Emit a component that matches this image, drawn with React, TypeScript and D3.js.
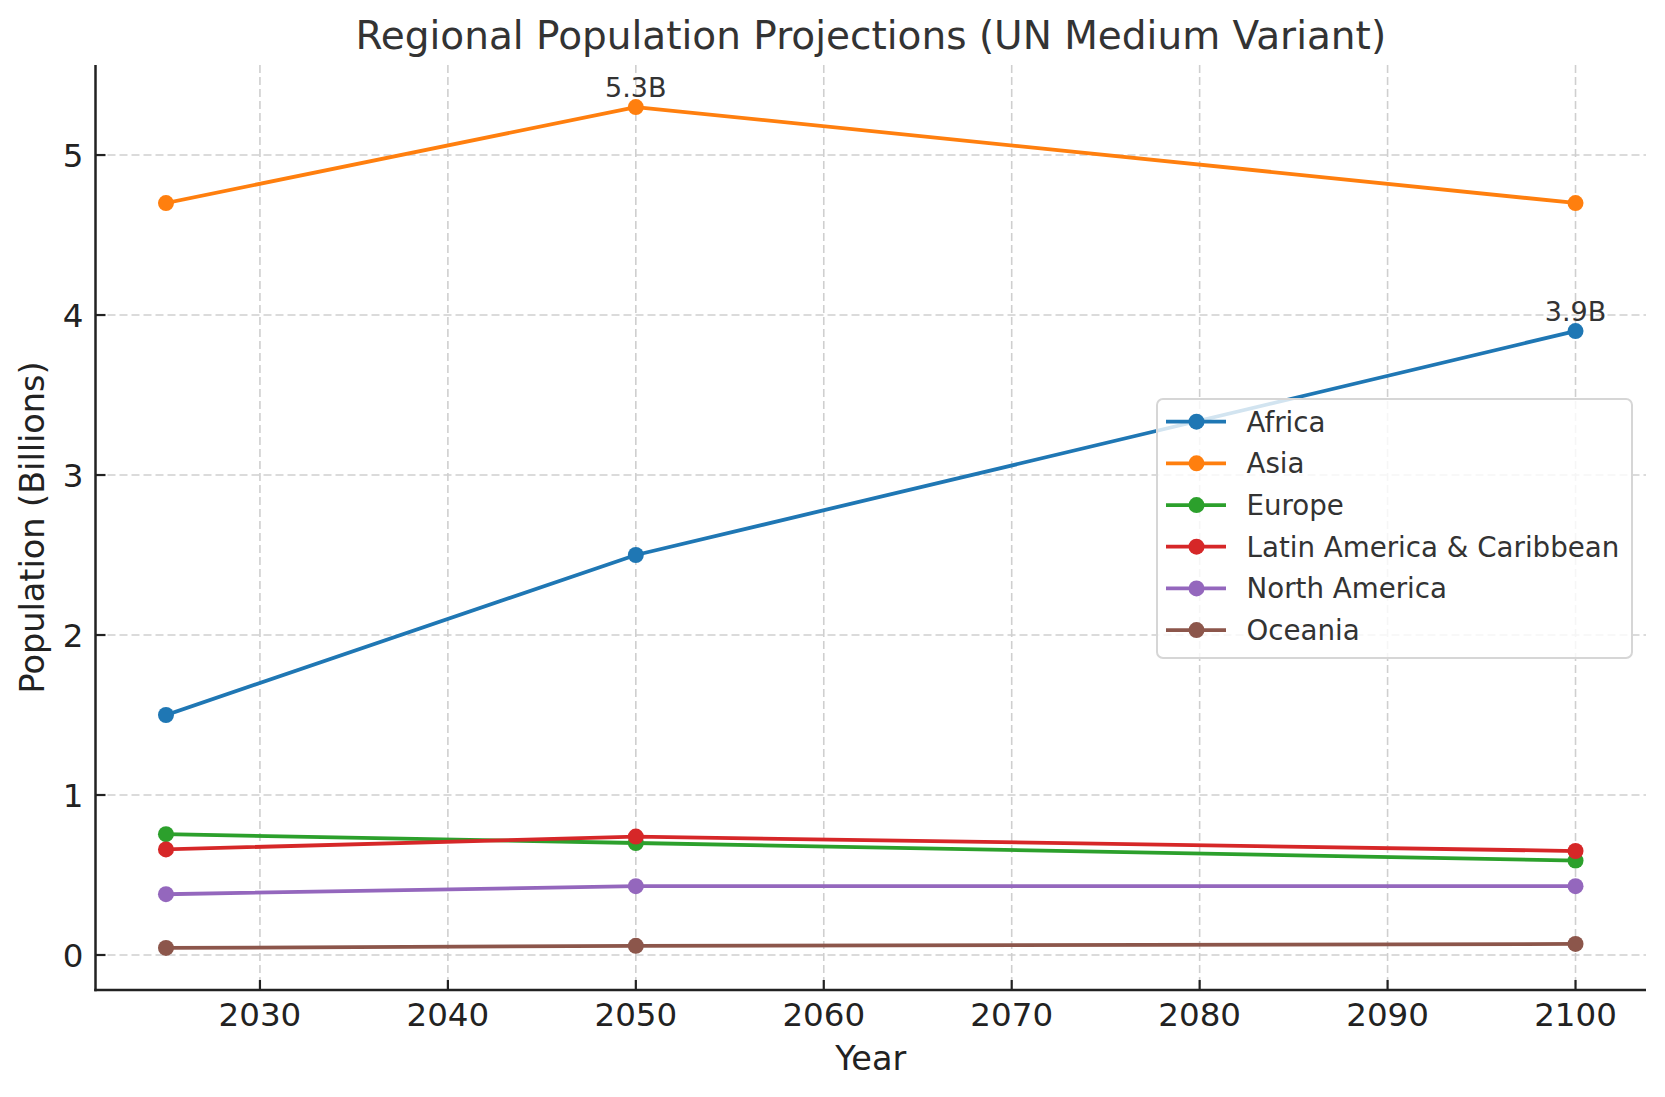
import React, { useEffect, useRef } from 'react';
import * as d3 from 'd3';

const years = [2025, 2050, 2100];
const regions = ['Africa', 'Asia', 'Europe', 'Latin America & Caribbean', 'North America', 'Oceania'];
const africa = [1.5, 2.5, 3.9];
const asia = [4.7, 5.3, 4.7];
const europe = [0.755, 0.7, 0.59];
const latinAmerica = [0.66, 0.74, 0.65];
const northAmerica = [0.38, 0.43, 0.43];
const oceania = [0.044, 0.057, 0.069];
const colors = ['#1f77b4', '#ff7f0e', '#2ca02c', '#d62728', '#9467bd', '#8c564b'];
const xTicks = [2030, 2040, 2050, 2060, 2070, 2080, 2090, 2100];
const yTicks = [0, 1, 2, 3, 4, 5];
const annotations = [
  { year: 2050, value: 5.3, label: '5.3B' },
  { year: 2100, value: 3.9, label: '3.9B' },
];

const FONT = '"DejaVu Sans", sans-serif';

const App: React.FC = () => {
  const svgRef = useRef<SVGSVGElement>(null);

  useEffect(() => {
    if (!svgRef.current) return;
    const svg = d3.select(svgRef.current);
    svg.selectAll('*').remove();

    const width = 1665;
    const height = 1097;
    const left = 95.5, right = 1646, top = 65, bottom = 990;

    const series = [africa, asia, europe, latinAmerica, northAmerica, oceania];
    const allVals = series.flat();
    const yMin = d3.min(allVals)!, yMax = d3.max(allVals)!;
    const yPad = (yMax - yMin) * 0.05;
    const xPad = (years[years.length - 1] - years[0]) * 0.05;

    const x = d3.scaleLinear().domain([years[0] - xPad, years[years.length - 1] + xPad]).range([left, right]);
    const y = d3.scaleLinear().domain([yMin - yPad, yMax + yPad]).range([bottom, top]);

    svg.append('rect').attr('width', width).attr('height', height).attr('fill', 'white');

    // grid
    const grid = svg.append('g');
    xTicks.forEach(t => {
      grid.append('line')
        .attr('x1', x(t)).attr('x2', x(t)).attr('y1', top).attr('y2', bottom)
        .attr('stroke', '#cfcfcf').attr('stroke-width', 1.6).attr('stroke-dasharray', '8,4');
    });
    yTicks.forEach(t => {
      grid.append('line')
        .attr('x1', left).attr('x2', right).attr('y1', y(t)).attr('y2', y(t))
        .attr('stroke', '#cfcfcf').attr('stroke-width', 1.6).attr('stroke-dasharray', '8,4');
    });

    // lines + markers
    const line = d3.line<number>()
      .x((_, i) => x(years[i]))
      .y(d => y(d));

    series.forEach((vals, si) => {
      const g = svg.append('g');
      g.append('path')
        .datum(vals)
        .attr('d', line)
        .attr('fill', 'none')
        .attr('stroke', colors[si])
        .attr('stroke-width', 3.8)
        .attr('stroke-linejoin', 'round')
        .attr('stroke-linecap', 'square');
      vals.forEach((v, i) => {
        g.append('circle')
          .attr('cx', x(years[i])).attr('cy', y(v)).attr('r', 8)
          .attr('fill', colors[si]);
      });
    });

    // annotations
    annotations.forEach(a => {
      svg.append('text')
        .attr('x', x(a.year)).attr('y', y(a.value) - 10)
        .attr('text-anchor', 'middle')
        .attr('fill', '#333')
        .style('font-family', FONT).style('font-size', '27px')
        .text(a.label);
    });

    // spines
    svg.append('line').attr('x1', left).attr('x2', left).attr('y1', top).attr('y2', bottom + 1.25)
      .attr('stroke', '#222').attr('stroke-width', 2.5);
    svg.append('line').attr('x1', left - 1.25).attr('x2', right).attr('y1', bottom).attr('y2', bottom)
      .attr('stroke', '#222').attr('stroke-width', 2.5);

    // ticks (inward)
    xTicks.forEach(t => {
      svg.append('line').attr('x1', x(t)).attr('x2', x(t)).attr('y1', bottom).attr('y2', bottom - 10)
        .attr('stroke', '#222').attr('stroke-width', 2.2);
      svg.append('text')
        .attr('x', x(t)).attr('y', 1026)
        .attr('text-anchor', 'middle').attr('fill', '#222')
        .style('font-family', FONT).style('font-size', '32.5px')
        .text(t);
    });
    yTicks.forEach(t => {
      svg.append('line').attr('x1', left).attr('x2', left + 10).attr('y1', y(t)).attr('y2', y(t))
        .attr('stroke', '#222').attr('stroke-width', 2.2);
      svg.append('text')
        .attr('x', 83.5).attr('y', y(t) + 12)
        .attr('text-anchor', 'end').attr('fill', '#222')
        .style('font-family', FONT).style('font-size', '32.5px')
        .text(t);
    });

    // axis labels
    svg.append('text')
      .attr('x', (left + right) / 2).attr('y', 1070)
      .attr('text-anchor', 'middle').attr('fill', '#222')
      .style('font-family', FONT).style('font-size', '33.5px')
      .text('Year');
    svg.append('text')
      .attr('transform', `translate(44, ${(top + bottom) / 2}) rotate(-90)`)
      .attr('text-anchor', 'middle').attr('fill', '#222')
      .style('font-family', FONT).style('font-size', '33.5px')
      .text('Population (Billions)');

    // title
    svg.append('text')
      .attr('x', (left + right) / 2).attr('y', 49)
      .attr('text-anchor', 'middle').attr('fill', '#333')
      .style('font-family', FONT).style('font-size', '39px')
      .text('Regional Population Projections (UN Medium Variant)');

    // legend
    const lg = svg.append('g');
    lg.append('rect')
      .attr('x', 1157).attr('y', 399).attr('width', 475).attr('height', 259)
      .attr('rx', 6).attr('ry', 6)
      .attr('fill', 'white').attr('fill-opacity', 0.8)
      .attr('stroke', '#d6d6d6').attr('stroke-width', 2);
    regions.forEach((name, i) => {
      const cy = 421.7 + i * 41.67;
      lg.append('line').attr('x1', 1166).attr('x2', 1226).attr('y1', cy).attr('y2', cy)
        .attr('stroke', colors[i]).attr('stroke-width', 3.8);
      lg.append('circle').attr('cx', 1196.5).attr('cy', cy).attr('r', 8).attr('fill', colors[i]);
      lg.append('text')
        .attr('x', 1246.5).attr('y', cy + 10)
        .attr('fill', '#333')
        .style('font-family', FONT).style('font-size', '27.7px')
        .text(name);
    });
  }, []);

  return (
    <svg
      ref={svgRef}
      width={1665}
      height={1097}
      viewBox="0 0 1665 1097"
      style={{ position: 'absolute', left: 0, top: 0, display: 'block' }}
    />
  );
};

export default App;
